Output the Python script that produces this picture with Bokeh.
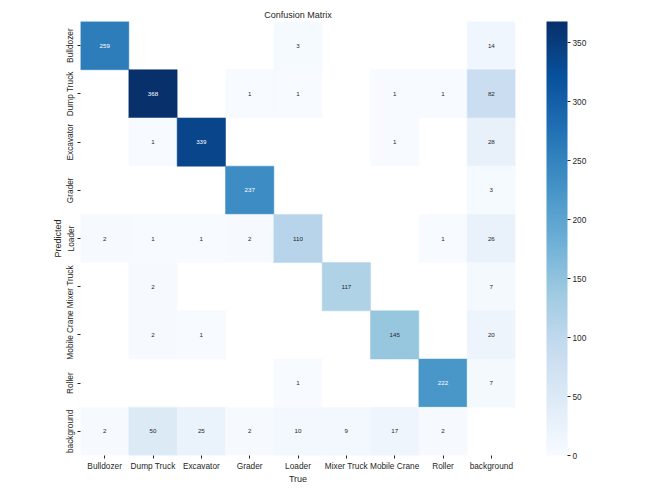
import numpy as np
from bokeh.plotting import figure
from bokeh.models import ColumnDataSource, LinearColorMapper, ColorBar, FixedTicker, FactorRange
from bokeh.palettes import Blues256
from bokeh.core.properties import value
from bokeh.embed import file_html
from bokeh.resources import INLINE

labels = ["Bulldozer", "Dump Truck", "Excavator", "Grader", "Loader",
          "Mixer Truck", "Mobile Crane", "Roller", "background"]

# rows = Predicted, columns = True
row_bulldozer = [259, 0, 0, 0, 3, 0, 0, 0, 14]
row_dump_truck = [0, 368, 0, 1, 1, 0, 1, 1, 82]
row_excavator = [0, 1, 339, 0, 0, 0, 1, 0, 28]
row_grader = [0, 0, 0, 237, 0, 0, 0, 0, 3]
row_loader = [2, 1, 1, 2, 110, 0, 0, 1, 26]
row_mixer_truck = [0, 2, 0, 0, 0, 117, 0, 0, 7]
row_mobile_crane = [0, 2, 1, 0, 0, 0, 145, 0, 20]
row_roller = [0, 0, 0, 0, 1, 0, 0, 222, 7]
row_background = [2, 50, 25, 2, 10, 9, 17, 2, 0]

colorbar_ticks = [0, 50, 100, 150, 200, 250, 300, 350]

matrix = np.array([row_bulldozer, row_dump_truck, row_excavator, row_grader,
                   row_loader, row_mixer_truck, row_mobile_crane, row_roller,
                   row_background], dtype=float)

FONT = "Liberation Sans"
palette = list(Blues256)[::-1]  # light -> dark
vmin, vmax = 0.0, float(matrix.max())
mapper = LinearColorMapper(palette=palette, low=vmin, high=vmax)


def rel_lum(hexc):
    rgb = np.array([int(hexc[i:i + 2], 16) for i in (1, 3, 5)]) / 255.0
    rgb = np.where(rgb <= 0.03928, rgb / 12.92, ((rgb + 0.055) / 1.055) ** 2.4)
    return 0.2126 * rgb[0] + 0.7152 * rgb[1] + 0.0722 * rgb[2]


xs, ys, vals, txts, tcols = [], [], [], [], []
for i, pred in enumerate(labels):
    for j, true in enumerate(labels):
        v = matrix[i, j]
        if v <= 0:
            continue
        xs.append(true)
        ys.append(pred)
        vals.append(v)
        txts.append(str(int(v)))
        idx = int(round((v - vmin) / (vmax - vmin) * (len(palette) - 1)))
        c = palette[idx]
        tcols.append("#ffffff" if rel_lum(c) < 0.408 else "#262626")

src = ColumnDataSource(dict(x=xs, y=ys, v=vals, t=txts, tc=tcols))

W, H = 650, 488
LEFT, RIGHT, TOP, BOTTOM = 80, 135, 21, 33
FRAME_W = W - LEFT - RIGHT
FRAME_H = H - TOP - BOTTOM

p = figure(width=W, height=H, output_backend="svg", toolbar_location=None,
           x_range=FactorRange(*labels), y_range=FactorRange(*labels[::-1]),
           min_border_left=LEFT, min_border_right=RIGHT, min_border_top=TOP,
           min_border_bottom=BOTTOM, title="Confusion Matrix")
p.x_range.range_padding = 0
p.y_range.range_padding = 0

p.rect(x="x", y="y", width=1, height=1, source=src,
       fill_color={"field": "v", "transform": mapper},
       line_color={"field": "v", "transform": mapper}, line_width=0.5)
p.text(x="x", y="y", text="t", source=src, text_align="center",
       text_baseline="middle", text_font_size="6.2px", text_color="tc",
       text_font=value(FONT))

p.title.align = "center"
p.title.text_font = FONT
p.title.text_font_size = "9px"
p.title.text_font_style = "normal"
p.title.text_color = "#262626"
p.title.standoff = 4

for ax in (p.xaxis[0], p.yaxis[0]):
    ax.axis_line_color = None
    ax.major_tick_in = 0
    ax.major_tick_out = 3
    ax.major_tick_line_color = "#262626"
    ax.major_label_text_font = FONT
    ax.major_label_text_font_size = "8.3px"
    ax.major_label_text_color = "#262626"
    ax.major_label_standoff = 2
    ax.axis_label_text_font = FONT
    ax.axis_label_text_font_size = "9px"
    ax.axis_label_text_font_style = "normal"
    ax.axis_label_text_color = "#262626"
    ax.axis_label_standoff = 0

p.xaxis.axis_label = "True"
p.yaxis.axis_label = "Predicted"
p.yaxis.major_label_orientation = "vertical"

p.xgrid.grid_line_color = None
p.ygrid.grid_line_color = None
p.outline_line_color = None
p.background_fill_color = "white"

cb = ColorBar(color_mapper=mapper, ticker=FixedTicker(ticks=colorbar_ticks),
              width=21, height=FRAME_H, padding=0, margin=0,
              location=(FRAME_W + 31, 0), bar_line_color=None,
              major_tick_in=0, major_tick_out=3, major_tick_line_color="#262626",
              major_label_text_font=FONT, major_label_text_font_size="8.3px",
              major_label_text_color="#262626", label_standoff=2,
              background_fill_color=None, border_line_color=None)
p.add_layout(cb, "center")

open("out.html", "w").write(file_html(p, INLINE))
